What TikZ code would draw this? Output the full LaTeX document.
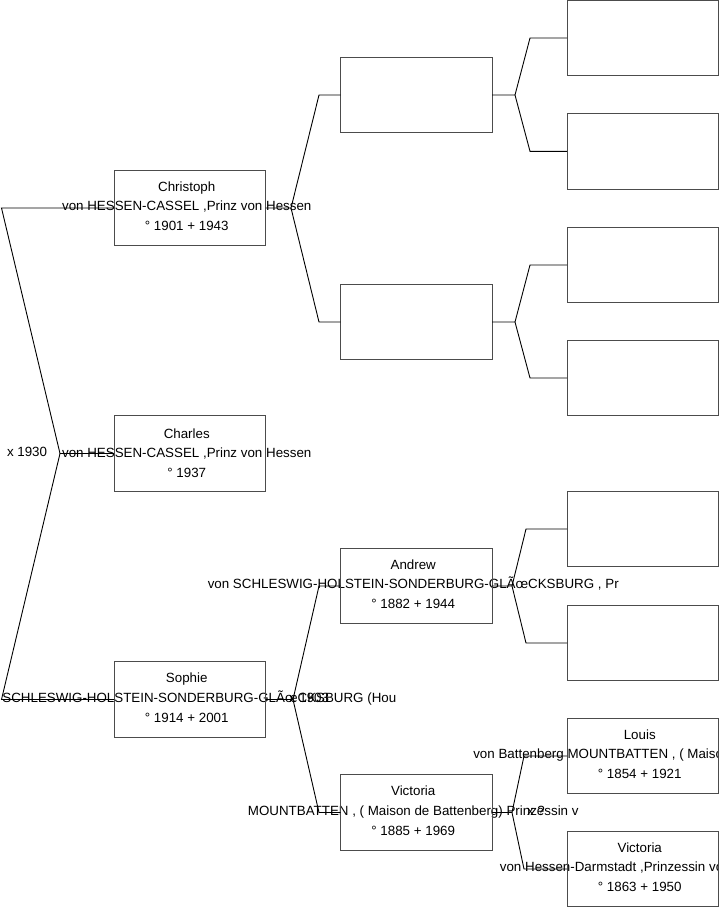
\documentclass[tikz,border=0pt]{standalone}
\usepackage{fontspec}
\setmainfont{Liberation Sans}
\newcommand\mkpers[7]{%
  \node[ptext] (#1a) at (#2-3,#3+#7-16.8) {#4};
  \node[ptext] (#1b) at (#2-3,#3+#7+2.8) {#5};
  \node[ptext] (#1c) at (#2-3,#3+#7+22.6) {#6};
  \node[pbox] (#1) at (#2,#3) {};
}
\begin{document}
\begin{tikzpicture}[x=1pt,y=-1pt,
  pbox/.style={draw=black!70,line width=1pt,minimum width=151.5pt,minimum height=75.5pt,inner sep=0pt,outer sep=0pt},
  ptext/.style={anchor=base,inner sep=0pt,outer sep=0pt,font=\fontsize{13.35}{15}\selectfont},
  conn/.style={draw=black,line width=0.9pt}]
\useasboundingbox (0,0) rectangle (719,908);
\clip (0,0) rectangle (719,908);
\fill[white] (0,0) rectangle (719,908);
% generation 1
\mkpers{p1}{189.75}{208}{Christoph}{von HESSEN-CASSEL ,Prinz von Hessen}{° 1901 + 1943}{0}
\mkpers{p2}{189.75}{453.5}{Charles}{von HESSEN-CASSEL ,Prinz von Hessen}{° 1937}{1.5}
\mkpers{p3}{189.75}{699.5}{Sophie}{von SCHLESWIG-HOLSTEIN-SONDERBURG-GLÃœCKSBURG (Hou}{° 1914 + 2001}{0}
% generation 2
\node[pbox] (q1) at (416.25,95) {};
\node[pbox] (q2) at (416.25,322) {};
\mkpers{q3}{416.25}{586}{Andrew}{von SCHLESWIG-HOLSTEIN-SONDERBURG-GLÃœCKSBURG , Pr}{° 1882 + 1944}{0}
\mkpers{q4}{416.25}{812.5}{Victoria}{MOUNTBATTEN , ( Maison de Battenberg) Prinzessin v}{° 1885 + 1969}{0}
% generation 3
\node[pbox] (r1) at (642.75,38) {};
\node[pbox] (r2) at (642.75,151.3) {};
\node[pbox] (r3) at (642.75,265) {};
\node[pbox] (r4) at (642.75,378) {};
\node[pbox] (r5) at (642.75,529) {};
\node[pbox] (r6) at (642.75,643) {};
\mkpers{r7}{642.75}{756}{Louis}{von Battenberg MOUNTBATTEN , ( Maison de Battenbe}{° 1854 + 1921}{0}
\mkpers{r8}{642.75}{869}{Victoria}{von Hessen-Darmstadt ,Prinzessin von Hessen}{° 1863 + 1950}{0}
% marriage labels
\node[ptext,anchor=base west] (m1) at (7,456.5) {x 1930};
\node[ptext,anchor=base west] (m2) at (289,702.5) {x 1903};
\node[ptext,anchor=base west] (m3) at (527,815.5) {x ?};
% connectors
\coordinate (a0) at (1.5,208);
\coordinate (j0) at (60,453.5);
\coordinate (c0) at (1.5,699.5);
\draw[conn] (p1.west) -- (a0) -- (j0) -- (c0) -- (p3.west);
\draw[conn] (j0) -- (p2.west);
% Christoph's parents
\coordinate (jp1) at (291,208);
\draw[conn] (p1.east) -- (jp1) -- (319,95) -- (q1.west);
\draw[conn] (jp1) -- (319,322) -- (q2.west);
% Sophie's parents
\coordinate (jp3) at (293,699.5);
\draw[conn] (p3.east) -- (jp3) -- (319,586) -- (q3.west);
\draw[conn] (jp3) -- (319,812.5) -- (q4.west);
% generation 2 -> 3
\coordinate (jq1) at (515,95);
\draw[conn] (q1.east) -- (jq1) -- (530,38) -- (r1.west);
\draw[conn] (jq1) -- (530,151.3) -- (r2.west);
\coordinate (jq2) at (515,322);
\draw[conn] (q2.east) -- (jq2) -- (530,265) -- (r3.west);
\draw[conn] (jq2) -- (530,378) -- (r4.west);
\coordinate (jq3) at (512,586);
\draw[conn] (q3.east) -- (jq3) -- (526,529) -- (r5.west);
\draw[conn] (jq3) -- (526,643) -- (r6.west);
\coordinate (jq4) at (512,812.5);
\draw[conn] (q4.east) -- (jq4) -- (524,756) -- (r7.west);
\draw[conn] (jq4) -- (524,869) -- (r8.west);
\end{tikzpicture}
\end{document}
